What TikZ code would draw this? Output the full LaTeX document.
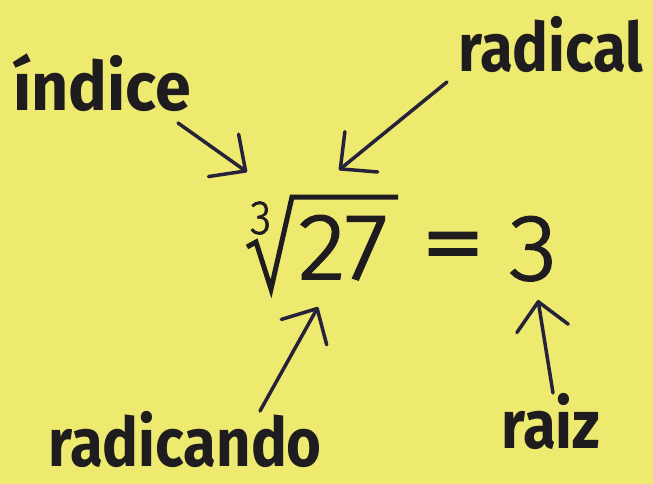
\documentclass[tikz,border=0pt]{standalone}
\usepackage{fontspec}
\usetikzlibrary{arrows.meta}
\newfontfamily\lblfont{Fira Sans}[UprightFont={* Bold},FakeStretch=0.88]
\newfontfamily\lblfontwide{Fira Sans}[UprightFont={* Bold},FakeStretch=0.95]
\newfontfamily\digfont{Fira Sans Light}[FakeStretch=1.05,FakeBold=2]
\newfontfamily\idxfont{Fira Sans Light}[FakeStretch=0.9,FakeBold=1.5]
\newfontfamily\eqfont{Fira Sans Light}[FakeBold=3]
\definecolor{bgyellow}{RGB}{238,234,112}
\definecolor{ink}{RGB}{30,28,30}
\definecolor{arrowink}{RGB}{38,34,58}
\tikzset{
  lbl/.style={anchor=base west,inner sep=0pt,text=ink,font=\lblfont\fontsize{68}{68}\selectfont},
  lblwide/.style={lbl,font=\lblfontwide\fontsize{68}{68}\selectfont},
  dig/.style={anchor=base west,inner sep=0pt,text=ink,font=\digfont\fontsize{94}{94}\selectfont},
  idxstyle/.style={anchor=base west,inner sep=0pt,text=ink,font=\idxfont\fontsize{48}{48}\selectfont},
  eqstyle/.style={anchor=center,inner sep=0pt,text=ink,font=\eqfont\fontsize{94}{94}\selectfont},
  pointer/.style={draw=arrowink,line width=3.5pt,line cap=round,line join=round,
    -{Straight Barb[length=27pt,width=52pt,line width=3.5pt,round]}},
  radsign/.style={draw=ink,line width=5pt,line join=miter,line cap=butt}
}
\begin{document}
\begin{tikzpicture}[x=1pt,y=-1pt]
\useasboundingbox[fill=bgyellow] (0,0) rectangle (653,484);
% labels
\node[lblwide] (indice) at (13,111) {índice};
\node[lbl] (radical) at (458,72) {radical};
\node[lbl] (radicando) at (48,466) {radicando};
\node[lbl] (raiz) at (501,448) {raiz};
% expression
\node[idxstyle] (idx) at (250,234) {3};
\node[dig] (num) at (298,279) {27};
\node[eqstyle] (eq) at (453,254) {\scalebox{1.35}[1]{=}};
\node[dig] (res) at (509,280) {3};
\draw[radsign] (247,247) -- (256,242) -- (271,289) -- (292,197) -- (398,197);
% arrow end points
\coordinate (indice-out) at (178,123);
\coordinate (indice-tip) at (247,172);
\coordinate (radical-out) at (447,82);
\coordinate (radical-tip) at (339,170);
\coordinate (radicando-out) at (260,411);
\coordinate (radicando-tip) at (318,307);
\coordinate (raiz-out) at (553,393);
\coordinate (raiz-tip) at (538,300);
\draw[pointer] (indice-out) -- (indice-tip);
\draw[pointer] (radical-out) -- (radical-tip);
\draw[pointer] (radicando-out) -- (radicando-tip);
\draw[pointer] (raiz-out) -- (raiz-tip);
\end{tikzpicture}
\end{document}
